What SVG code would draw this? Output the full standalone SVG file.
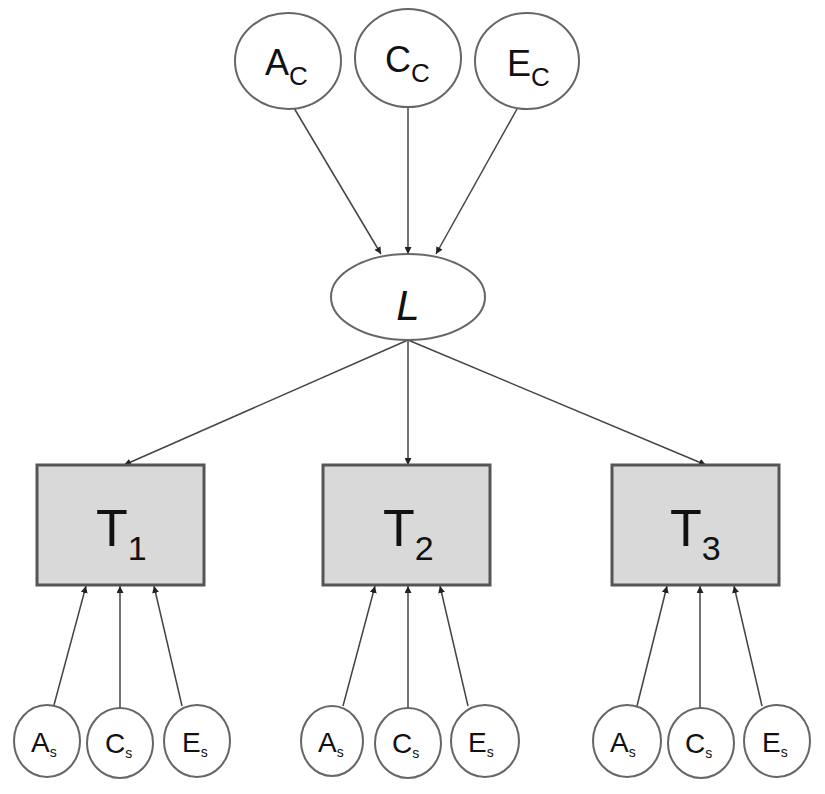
<svg xmlns="http://www.w3.org/2000/svg" width="825" height="794" viewBox="0 0 825 794">
<style>
.n{fill:#fff;stroke:#666;stroke-width:2}
.b{fill:#d9d9d9;stroke:#555;stroke-width:3}
.e{stroke:#444;stroke-width:1.5;fill:none;marker-end:url(#ah)}
text{font-family:"Liberation Sans",Arial,sans-serif;fill:#111}
.big{font-size:36px}
.sub{font-size:26px}
.t{font-size:52px}
.ts{font-size:34px}
.sm{font-size:28px}
.ss{font-size:14px}
</style>
<defs>
<marker id="ah" viewBox="0 0 10 10" refX="10" refY="5" markerWidth="7" markerHeight="7" markerUnits="userSpaceOnUse" orient="auto">
<path d="M0,0L10,5L0,10z" fill="#222"/>
</marker>
</defs>
<g id="connectors">
<line class="e" x1="294" y1="108" x2="381" y2="254"/>
<line class="e" x1="408" y1="107" x2="408" y2="254"/>
<line class="e" x1="517" y1="109" x2="436" y2="254"/>
<line class="e" x1="408" y1="340" x2="124" y2="465"/>
<line class="e" x1="408" y1="340" x2="408" y2="465"/>
<line class="e" x1="408" y1="340" x2="706" y2="465"/>
<line class="e" x1="54" y1="705" x2="86" y2="586"/>
<line class="e" x1="120" y1="708" x2="120" y2="586"/>
<line class="e" x1="182" y1="706" x2="154" y2="586"/>
<line class="e" x1="343" y1="706" x2="375" y2="586"/>
<line class="e" x1="408" y1="708" x2="408" y2="586"/>
<line class="e" x1="468" y1="706" x2="440" y2="586"/>
<line class="e" x1="637" y1="706" x2="667" y2="586"/>
<line class="e" x1="700" y1="708" x2="700" y2="586"/>
<line class="e" x1="762" y1="706" x2="734" y2="586"/>
</g>
<g id="Ac"><ellipse class="n" cx="288" cy="61" rx="53" ry="48"/><text class="big" x="265" y="75">A<tspan class="sub" dy="10">C</tspan></text></g>
<g id="Cc"><ellipse class="n" cx="408" cy="58" rx="53" ry="49"/><text class="big" x="385" y="72">C<tspan class="sub" dy="10">C</tspan></text></g>
<g id="Ec"><ellipse class="n" cx="527" cy="61" rx="52" ry="48"/><text class="big" x="507" y="76">E<tspan class="sub" dy="10">C</tspan></text></g>
<g id="L"><ellipse class="n" cx="408" cy="297" rx="77" ry="43"/><text x="408" y="320" text-anchor="middle" style="font-size:42px;font-style:italic">L</text></g>
<g id="T1"><rect class="b" x="37" y="465" width="167" height="120"/><text class="t" x="96" y="546">T<tspan class="ts" dy="14">1</tspan></text></g>
<g id="T2"><rect class="b" x="323" y="465" width="167" height="120"/><text class="t" x="383" y="546">T<tspan class="ts" dy="14">2</tspan></text></g>
<g id="T3"><rect class="b" x="612" y="465" width="167" height="120"/><text class="t" x="670" y="546">T<tspan class="ts" dy="14">3</tspan></text></g>
<g id="As1"><ellipse class="n" cx="47" cy="741" rx="33" ry="36"/><text class="sm" x="31" y="752">A<tspan class="ss" dy="5">s</tspan></text></g>
<g id="Cs1"><ellipse class="n" cx="120" cy="743" rx="33" ry="35"/><text class="sm" x="105" y="753">C<tspan class="ss" dy="5">s</tspan></text></g>
<g id="Es1"><ellipse class="n" cx="197" cy="741" rx="33" ry="36"/><text class="sm" x="182" y="752">E<tspan class="ss" dy="5">s</tspan></text></g>
<g id="As2"><ellipse class="n" cx="332" cy="741" rx="31" ry="35"/><text class="sm" x="318" y="752">A<tspan class="ss" dy="5">s</tspan></text></g>
<g id="Cs2"><ellipse class="n" cx="408" cy="743" rx="33" ry="35"/><text class="sm" x="392" y="753">C<tspan class="ss" dy="5">s</tspan></text></g>
<g id="Es2"><ellipse class="n" cx="485" cy="741" rx="34" ry="36"/><text class="sm" x="468" y="752">E<tspan class="ss" dy="5">s</tspan></text></g>
<g id="As3"><ellipse class="n" cx="627" cy="741" rx="34" ry="36"/><text class="sm" x="610" y="752">A<tspan class="ss" dy="5">s</tspan></text></g>
<g id="Cs3"><ellipse class="n" cx="701" cy="743" rx="33" ry="35"/><text class="sm" x="685" y="753">C<tspan class="ss" dy="5">s</tspan></text></g>
<g id="Es3"><ellipse class="n" cx="777" cy="741" rx="33" ry="36"/><text class="sm" x="762" y="752">E<tspan class="ss" dy="5">s</tspan></text></g>
</svg>
